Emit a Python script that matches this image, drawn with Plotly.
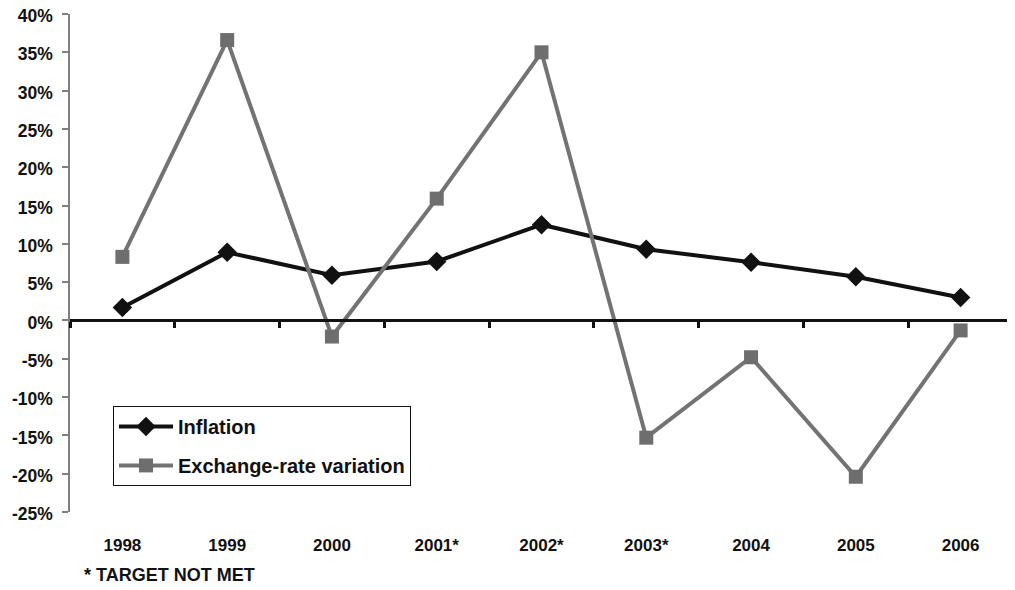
import plotly.graph_objects as go

years = ["1998", "1999", "2000", "2001*", "2002*", "2003*", "2004", "2005", "2006"]
inflation = [1.7, 8.9, 5.9, 7.7, 12.5, 9.3, 7.6, 5.7, 3.0]
exchange = [8.3, 36.6, -2.1, 15.9, 35.0, -15.3, -4.8, -20.4, -1.3]
y_ticks = [-25, -20, -15, -10, -5, 0, 5, 10, 15, 20, 25, 30, 35, 40]
y_ticktext = [f"{v}%" for v in y_ticks]
footnote = "* TARGET NOT MET"

FONT = "Liberation Sans, Arial, sans-serif"
idx = list(range(len(years)))
y_min, y_max = y_ticks[0], y_ticks[-1]

fig = go.Figure()
fig.add_trace(go.Scatter(
    x=idx, y=inflation, name="Inflation", mode="lines+markers",
    line=dict(color="#111111", width=4),
    marker=dict(symbol="diamond", size=15, color="#111111"),
    legendgroup="a",
))
fig.add_trace(go.Scatter(
    x=idx, y=exchange, name="Exchange-rate variation", mode="lines+markers",
    line=dict(color="#737373", width=4),
    marker=dict(symbol="square", size=14, color="#6e6e6e"),
    legendgroup="b",
))
# invisible helper trace on the label axis
fig.add_trace(go.Scatter(x=idx, y=[None] * len(idx), xaxis="x2", showlegend=False,
                         hoverinfo="skip", mode="markers"))

boundaries = [i - 0.5 for i in range(len(years) + 1)]

fig.update_layout(
    width=1007, height=582,
    margin=dict(l=62, r=2, t=6, b=78, autoexpand=False),
    paper_bgcolor="white", plot_bgcolor="white",
    font=dict(family=FONT, size=17, color="#111111", weight="bold"),
    showlegend=True,
    legend=dict(
        x=0.0456, y=0.213, xanchor="left", yanchor="top",
        bordercolor="#111111", borderwidth=1, bgcolor="white",
        font=dict(family=FONT, size=20, color="#111111", weight="bold"),
        tracegroupgap=10, traceorder="grouped", itemwidth=54,
    ),
    xaxis=dict(
        range=[-0.5, len(years) - 0.5], automargin=False,
        anchor="free", position=(0 - y_min) / (y_max - y_min),
        tickvals=boundaries, showticklabels=False,
        ticks="outside", ticklen=6, tickwidth=3, tickcolor="#111111",
        showline=True, linewidth=3, linecolor="#111111",
        showgrid=False, zeroline=False,
    ),
    xaxis2=dict(
        range=[-0.5, len(years) - 0.5], overlaying="x", anchor="y", side="bottom",
        automargin=False, ticklabeloverflow="allow",
        tickvals=idx, ticktext=years, showline=False, showgrid=False, zeroline=False,
        ticks="outside", ticklen=18, tickcolor="rgba(0,0,0,0)",
        tickfont=dict(family=FONT, size=17, color="#111111", weight="bold"),
    ),
    yaxis=dict(
        range=[y_min, y_max], tickvals=y_ticks, ticktext=y_ticktext, automargin=False,
        ticklabeloverflow="allow", ticklabelshift=2,
        showline=True, linewidth=1.5, linecolor="#808080",
        ticks="outside", ticklen=6, tickwidth=1.5, tickcolor="#808080",
        ticklabelstandoff=6,
        showgrid=False, zeroline=False,
        tickfont=dict(family=FONT, size=17.5, color="#111111", weight="bold"),
    ),
    annotations=[dict(
        text=footnote, xref="paper", yref="paper", x=0.0127, y=-0.1265,
        xanchor="left", yanchor="middle", showarrow=False,
        font=dict(family=FONT, size=18, color="#111111", weight="bold"),
    )],
)

fig.write_html("out.html")
